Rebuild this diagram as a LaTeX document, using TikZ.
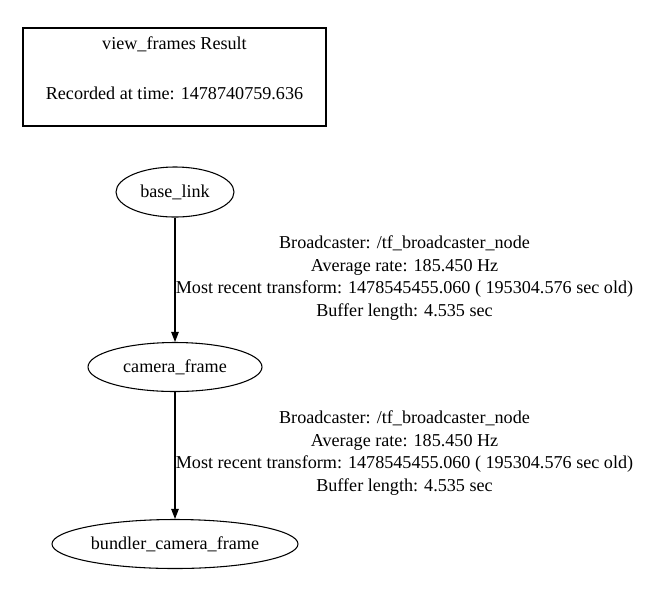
\documentclass[tikz,border=0pt]{standalone}
\usepackage{fontspec}
\setmainfont{Liberation Serif}
\usepackage{tikz}
\usetikzlibrary{arrows.meta, positioning, shapes.geometric}
\definecolor{tfInk}{RGB}{0,0,0}
\tikzset{
  % a frame of the tf tree, drawn as an ellipse
  frame/.style={
    draw=tfInk, ellipse, line width=0.8pt, inner sep=0pt,
    font=\fontsize{13.6}{16.5}\selectfont, text=tfInk
  },
  % the box that holds the header of the result
  headbox/.style={
    draw=tfInk, rectangle, line width=1.6pt, align=center,
    minimum width=227pt, minimum height=74pt, inner sep=0pt,
    font=\fontsize{13.6}{16.5}\selectfont, text=tfInk
  },
  % arrows between frames
  link/.style={-{Triangle[length=7.5pt,width=5.6pt]}, draw=tfInk, line width=0.8pt},
  % the text beside each arrow
  info/.style={font=\fontsize{13.6}{16.8}\selectfont, text=tfInk, align=center, inner sep=0pt},
}

\begin{document}
\begin{tikzpicture}[x=0.75pt, y=-0.75pt]

\useasboundingbox (0,0) rectangle (649,594);

% ------------------------------- header box --------------------------------
\node[headbox] (head) at (174.5,77)
      {view\_frames Result\\[21pt]Recorded at time: 1478740759.636\\[-3.3pt]\mbox{}};

% ------------------------------- the frames --------------------------------
\node[frame, minimum width=88.5pt, minimum height=37.5pt] (base) at (175,192) {base\_link};
\node[frame, minimum width=130.5pt, minimum height=36.75pt] (cam) at (175,367) {camera\_frame};
\node[frame, minimum width=184.5pt, minimum height=36.75pt] (bundler) at (175,544) {bundler\_camera\_frame};

% ------------------------------- the links ---------------------------------
\draw[link] (base) -- (cam);
\draw[link] (cam) -- (bundler);

% ------------------------------- link texts --------------------------------
\node[info] (baseinfo) at (404.5,278)
      {Broadcaster: /tf\_broadcaster\_node\\Average rate: 185.450 Hz\\
       Most recent transform: 1478545455.060 ( 195304.576 sec old)\\Buffer length: 4.535 sec};
\node[info] (caminfo) at (404.5,453)
      {Broadcaster: /tf\_broadcaster\_node\\Average rate: 185.450 Hz\\
       Most recent transform: 1478545455.060 ( 195304.576 sec old)\\Buffer length: 4.535 sec};

\end{tikzpicture}
\end{document}
